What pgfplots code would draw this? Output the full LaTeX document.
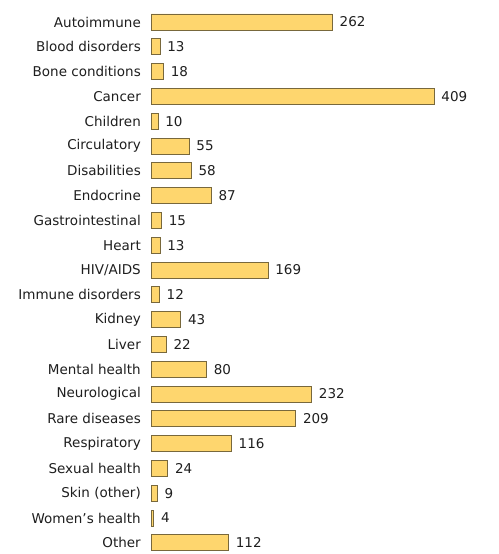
\documentclass[border=0pt]{standalone}
\usepackage{fontspec}
\setmainfont{DejaVu Sans}
\usepackage{pgfplots}
\pgfplotsset{compat=1.18}
\definecolor{barfill}{RGB}{254,214,110}
\definecolor{barline}{RGB}{120,104,60}
\definecolor{txt}{RGB}{30,30,30}
\begin{document}
\begin{tikzpicture}
\begin{axis}[
  at={(151bp,544.4bp)}, anchor=north west,
  scale only axis,
  width=346bp, height=545.6bp,
  xmin=0, xmax=500,
  ymin=-0.5, ymax=21.5,
  y dir=reverse,
  xbar, bar width=16bp,
  axis line style={draw=none},
  xtick=\empty,
  ytick={0,...,21},
  yticklabels={Autoimmune,Blood disorders,Bone conditions,Cancer,Children,Circulatory,Disabilities,Endocrine,Gastrointestinal,Heart,HIV/AIDS,Immune disorders,Kidney,Liver,Mental health,Neurological,Rare diseases,Respiratory,Sexual health,Skin (other),Women's health,Other},
  major tick length=0pt,
  /pgf/number format/assume math mode=true,
  yticklabel style={font=\fontsize{13.5bp}{15bp}\selectfont, text=txt, inner sep=0pt, xshift=-10bp},
  nodes near coords,
  nodes near coords style={font=\fontsize{13.5bp}{15bp}\selectfont, text=txt, inner sep=0pt, xshift=7bp, anchor=west},
  point meta=x,
  clip=false,
]
\addplot[fill=barfill, draw=barline, line width=0.8bp] coordinates {
(262,0) (13,1) (18,2) (409,3) (10,4) (55,5) (58,6) (87,7) (15,8) (13,9) (169,10) (12,11) (43,12) (22,13) (80,14) (232,15) (209,16) (116,17) (24,18) (9,19) (4,20) (112,21)
};
\end{axis}
\pgfresetboundingbox
\useasboundingbox (0,0) rectangle (499bp,554bp);
\end{tikzpicture}
\end{document}
